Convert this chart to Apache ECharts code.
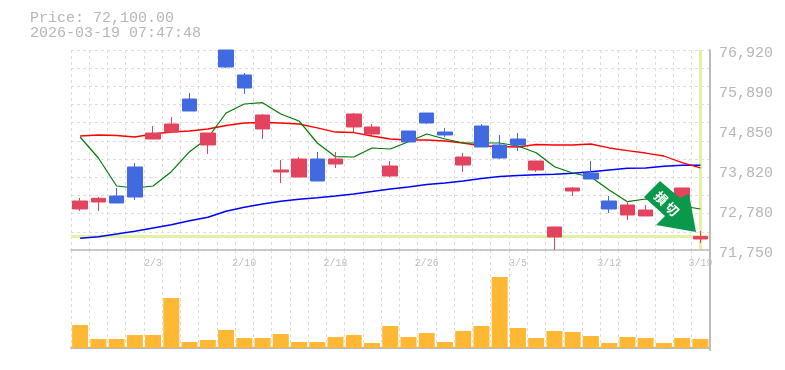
<!DOCTYPE html>
<html><head><meta charset="utf-8">
<style>html,body{margin:0;padding:0;background:#fff}#c{width:785px;height:370px}</style>
<script src="https://cdn.jsdelivr.net/npm/echarts@6/dist/echarts.min.js"></script>
</head><body><div id="c"></div>
<script>
const categories = ['1/28','1/29','1/30','2/2','2/3','2/4','2/5','2/6','2/9','2/10','2/12','2/13','2/16','2/17','2/18','2/19','2/20','2/24','2/25','2/26','2/27','3/2','3/3','3/4','3/5','3/6','3/9','3/10','3/11','3/12','3/13','3/16','3/17','3/18','3/19'];
// open, close, low, high
const candles = [
[72810,73017,72758,73094],[72991,73086,72758,73120],[73146,72965,72965,73353],[73896,73120,73043,73999],
[74619,74774,74619,74955],[74800,75007,74800,75188],[75653,75343,75343,75808],[74464,74774,74232,74774],
[76920,76481,76455,76920],[76274,75938,75783,76325],[74878,75240,74619,75266],[73766,73818,73482,74077],
[73637,74102,73637,74154],[74102,73534,73534,74283],[73973,74102,73870,74283],[74930,75266,74800,75291],
[74749,74930,74723,75007],[73663,73921,73637,74051],[74826,74542,74542,74826],[75291,75033,75007,75291],
[74800,74723,74671,74904],[73947,74154,73766,74257],[74955,74413,74413,75007],[74464,74128,74102,74723],
[74619,74464,74309,74774],[73818,74051,73766,74051],[72086,72345,71750,72345],[73275,73353,73146,73379],
[73740,73585,73585,74051],[73017,72810,72706,73146],[72655,72913,72526,73017],[72629,72784,72629,72913],
[72939,73094,72939,73094],[73094,73353,73094,73353],[72034,72100,71931,72241]];
const maRed = [74697,74723,74710,74671,74749,74800,74826,74878,74968,75033,75046,75033,75007,74904,74800,74787,74697,74619,74594,74594,74568,74516,74438,74425,74413,74477,74464,74464,74490,74387,74317,74257,74180,74007,73870];
const maGreen = [74671,74128,73404,73353,73404,73774,74291,74645,75291,75524,75558,75266,75085,74516,74162,74154,74387,74361,74550,74749,74619,74516,74516,74516,74438,74265,73903,73740,73637,73301,72999,73068,73017,72887,72810];
const maBlue = [72052,72094,72164,72233,72319,72404,72507,72595,72750,72854,72939,73009,73061,73102,73146,73198,73262,73327,73379,73443,73482,73534,73598,73650,73676,73697,73707,73733,73774,73818,73862,73870,73914,73940,73940];
const volumes = [23000,9000,9000,13000,13000,50000,6000,8000,18000,10000,10000,14000,6000,6000,11000,13000,5000,22000,11000,15000,6000,17000,22000,71000,20000,10000,17000,16000,12000,5000,11000,10000,5000,10000,9000];
const priceTicks = [71750,72780,73820,74850,75890,76920];
const gridValues = [71750,72220,72690,73160,73630,74100,74570,75040,75510,75980,76450,76920];
const lastPrice = 72100;
const lastDate = '3/19';
const headerText = 'Price: 72,100.00\n2026-03-19 07:47:48';
const arrowText = ['損','切'];

const MONO = '"Liberation Mono", monospace';
const gridLine = {show:true, interval:0, lineStyle:{color:'#ddd', type:[3,3], width:1}};
const chart = echarts.init(document.getElementById('c'), null, {renderer:'canvas'});
const lineSeries = (name, data, color, width) => ({
  name, type:'line', data, xAxisIndex:0, yAxisIndex:0, symbol:'none', z:1,
  lineStyle:{color, width}, itemStyle:{color}, silent:true, animation:false
});
chart.setOption({
  animation:false,
  backgroundColor:'#fff',
  title:{text:headerText, left:30, top:11, padding:0, textStyle:{fontFamily:MONO, fontSize:15, fontWeight:'normal', color:'#b6b6b6', lineHeight:15}},
  grid:[
    {left:71, top:50, width:638.5, height:200},
    {left:71, top:250, width:638.5, height:100}
  ],
  xAxis:[
    {type:'category', gridIndex:0, data:categories, boundaryGap:true,
     axisLine:{show:true, lineStyle:{color:'#bbb', width:1.5}}, axisTick:{show:false},
     axisLabel:{interval:(i)=>i%5===4, fontFamily:MONO, fontSize:10, color:'#bdbdbd', margin:8, hideOverlap:false},
     splitLine:gridLine},
    {type:'category', gridIndex:1, data:categories, boundaryGap:true,
     axisLine:{show:true, lineStyle:{color:'#bbb', width:2}}, axisTick:{show:false}, axisLabel:{show:false},
     splitLine:gridLine}
  ],
  yAxis:[
    {type:'value', gridIndex:0, position:'right', min:71750, max:76920, scale:true,
     axisLine:{show:true, lineStyle:{color:'#bbb', width:2}},
     axisTick:{show:false, customValues:gridValues},
     axisLabel:{customValues:priceTicks, formatter:v=>Number(v).toLocaleString('en-US'), fontFamily:MONO, fontSize:15, color:'#b6b6b6', margin:9.5, verticalAlign:'top', lineHeight:6},
     splitLine:{show:true, lineStyle:{color:'#ddd', type:[3,3], width:1}}},
    {type:'value', gridIndex:1, position:'right', min:-2000, max:98000,
     axisLine:{show:true, lineStyle:{color:'#bbb', width:2}}, axisTick:{show:false}, axisLabel:{show:false}, splitLine:{show:false}}
  ],
  series:[
    {type:'line', data:[], xAxisIndex:0, yAxisIndex:0, z:0, symbol:'none',
     markLine:{silent:true, symbol:'none', z:0, label:{show:false}, animation:false,
       lineStyle:{color:'#e2f2a2', width:3, type:'solid'},
       data:[{yAxis:lastPrice},{xAxis:lastDate}]}},
    lineSeries('ma-blue', maBlue, '#0000ff', 1.5),
    lineSeries('ma-red', maRed, '#ff0000', 1.3),
    lineSeries('ma-green', maGreen, '#007a00', 1.2),
    {type:'candlestick', data:candles, xAxisIndex:0, yAxisIndex:0, z:3, barWidth:15, clip:true,
     itemStyle:{color:'#e2445f', color0:'#416ae0', borderColor:'#e2445f', borderColor0:'#416ae0', borderWidth:1}},
    {type:'bar', data:volumes, xAxisIndex:1, yAxisIndex:1, barWidth:16, itemStyle:{color:'#ffb833'}, z:3}
  ],
  graphic:[
    {type:'polygon', z:100, shape:{points:[[660,181],[644,197],[665,216],[656,225],[696,232],[689,194],[680,198]]}, style:{fill:'#0a994b'}},
    {type:'text', z:101, x:661, y:198, rotation:-Math.PI/4, style:{text:arrowText[0], fill:'#fff', font:'bold 13px "Noto Sans CJK JP"', align:'center', verticalAlign:'middle'}},
    {type:'text', z:101, x:672, y:209, rotation:-Math.PI/4, style:{text:arrowText[1], fill:'#fff', font:'bold 13px "Noto Sans CJK JP"', align:'center', verticalAlign:'middle'}}
  ]
});
</script></body></html>
